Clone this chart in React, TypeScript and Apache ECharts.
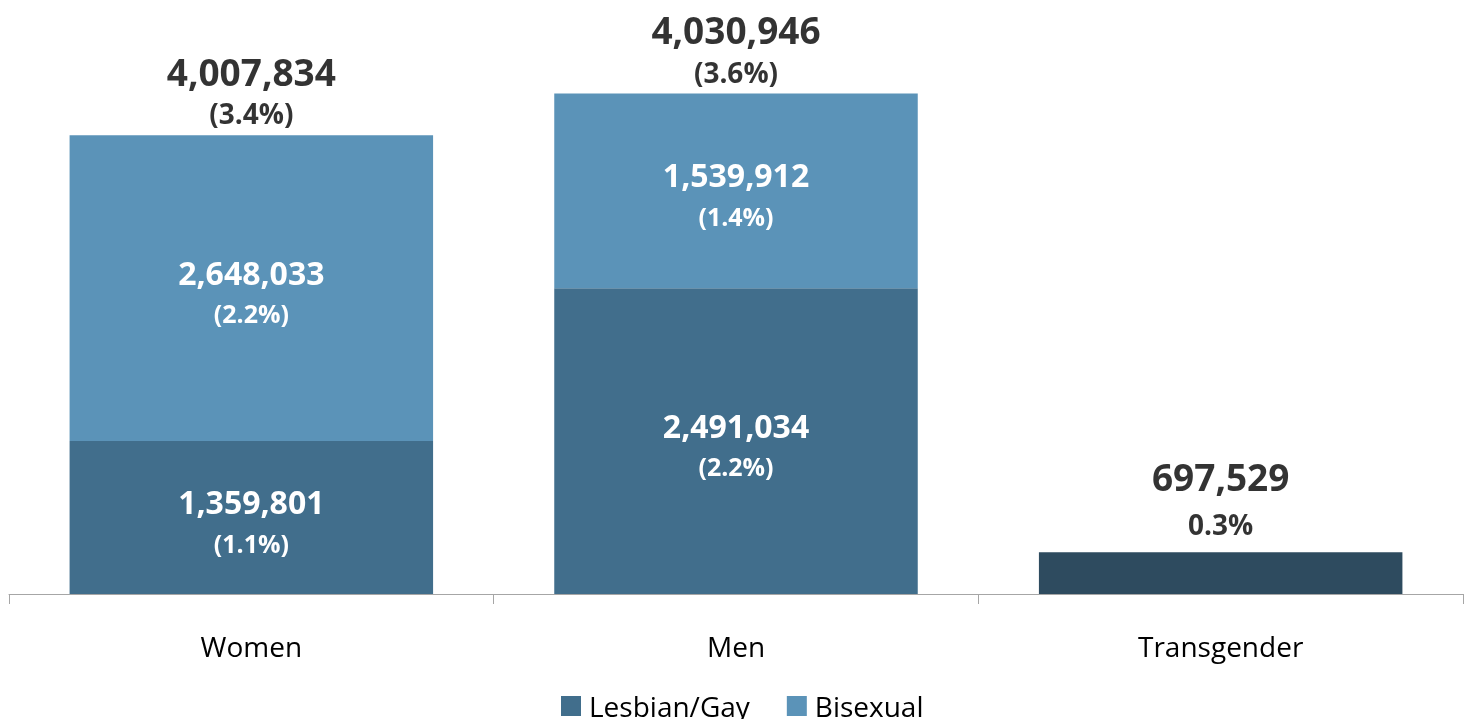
import React, { useEffect, useRef } from "react";
import * as echarts from "echarts";

const categories = ["Women", "Men", "Transgender"];
const legendNames = ["Lesbian/Gay", "Bisexual"];
// Bars are drawn on the percentage scale
const lesbianGayPct = [1.1, 2.2, null];
const bisexualPct = [2.2, 1.4, null];
const transgenderPct = [null, null, 0.3];
const totalPct = [3.3, 3.6, 0.3];
// Label texts
const lesbianGayCount = ["1,359,801", "2,491,034", ""];
const lesbianGayPctLabel = ["(1.1%)", "(2.2%)", ""];
const bisexualCount = ["2,648,033", "1,539,912", ""];
const bisexualPctLabel = ["(2.2%)", "(1.4%)", ""];
const totalCount = ["4,007,834", "4,030,946", "697,529"];
const totalPctLabel = ["(3.4%)", "(3.6%)", "0.3%"];

const FONT = "'Open Sans', sans-serif";

export default function App() {
  const ref = useRef<HTMLDivElement>(null);
  useEffect(() => {
    if (!ref.current) return;
    const chart = echarts.init(ref.current, undefined, { renderer: "svg" });
    const innerLabel = (counts: string[], pcts: string[]) => ({
      show: true,
      position: "inside",
      offset: [0, 4],
      color: "#fff",
      formatter: (p: any) => `{n|${counts[p.dataIndex]}}\n{p|${pcts[p.dataIndex]}}`,
      rich: {
        n: { fontFamily: FONT, fontWeight: "bold", fontSize: 32, color: "#fff", lineHeight: 42, align: "center" },
        p: { fontFamily: FONT, fontWeight: "bold", fontSize: 25, color: "#fff", lineHeight: 40, align: "center" },
      },
    });
    const topRich = (pLine: number) => ({
      n: { fontFamily: FONT, fontWeight: "bold", fontSize: 37, color: "#000", lineHeight: 44, align: "center" },
      p: { fontFamily: FONT, fontWeight: "bold", fontSize: 28, color: "#000", lineHeight: pLine, align: "center" },
    });
    const totalData = totalPct.map((v, i) =>
      i === 2 ? { value: v, label: { rich: topRich(52) } } : v
    );
    chart.setOption({
      animation: false,
      textStyle: { fontFamily: FONT },
      grid: { left: 1, right: 1, top: 30, bottom: 144 },
      legend: {
        data: legendNames,
        top: 679,
        left: 548,
        itemWidth: 20,
        itemHeight: 20,
        itemGap: 37,
        icon: "rect",
        textStyle: { fontFamily: FONT, fontSize: 28, color: "#000", padding: [0, 0, 0, 3] },
      },
      xAxis: {
        type: "category",
        data: categories,
        axisLine: { lineStyle: { color: "#a6a6a6", width: 1 } },
        axisTick: { show: true, length: 10, lineStyle: { color: "#a6a6a6" } },
        axisLabel: { fontFamily: FONT, fontSize: 28, color: "#000", margin: 38 },
      },
      yAxis: { type: "value", min: 0, max: 4, show: false },
      series: [
        {
          name: "Lesbian/Gay",
          type: "bar",
          stack: "total",
          barWidth: "75%",
          itemStyle: { color: "#416E8C" },
          data: lesbianGayPct,
          label: innerLabel(lesbianGayCount, lesbianGayPctLabel),
        },
        {
          name: "Bisexual",
          type: "bar",
          stack: "total",
          barWidth: "75%",
          itemStyle: { color: "#5B93B8" },
          data: bisexualPct,
          label: innerLabel(bisexualCount, bisexualPctLabel),
        },
        {
          name: "Transgender",
          type: "bar",
          stack: "total",
          barWidth: "75%",
          itemStyle: { color: "#2E4B5F" },
          data: transgenderPct,
        },
        {
          name: "Total",
          type: "scatter",
          symbolSize: 0,
          data: totalData,
          silent: true,
          label: {
            show: true,
            position: "top",
            distance: 2,
            color: "#000",
            formatter: (p: any) => `{n|${totalCount[p.dataIndex]}}\n{p|${totalPctLabel[p.dataIndex]}}`,
            rich: topRich(40),
          },
        },
      ],
    });
    return () => chart.dispose();
  }, []);
  return (
    <div
      ref={ref}
      style={{ position: "fixed", left: 8, top: 8, width: 1456, height: 730 }}
    />
  );
}
